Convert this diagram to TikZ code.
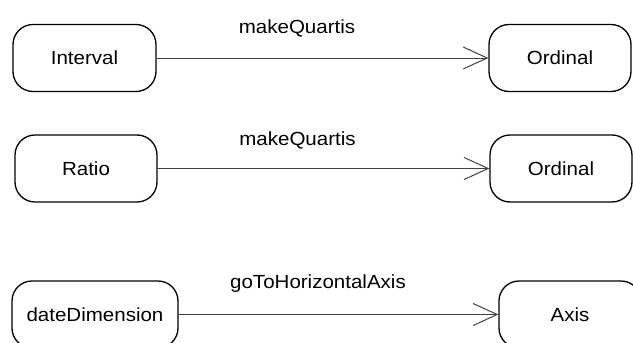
\documentclass[tikz,border=0pt]{standalone}
\usepackage{fontspec}
\setmainfont{Liberation Sans}[FakeStretch=1.08]
\usetikzlibrary{arrows.meta}
\begin{document}
\begin{tikzpicture}[x=1pt,y=-1pt,
  statebox/.style={draw=black, line width=1.3pt, rounded corners=20pt, inner sep=0pt,
    minimum height=67pt, font=\fontsize{19}{22}\selectfont},
  trans/.style={draw=black!75, line width=1pt,
    -{Straight Barb[length=24pt,width=22pt,line width=1pt]}},
  lbl/.style={anchor=base, inner sep=0pt, font=\fontsize{19}{22}\selectfont}]
\useasboundingbox (0,0) rectangle (633,343);
\node[statebox, minimum width=143pt] (interval) at (84.5,58) {Interval};
\node[statebox, minimum width=142pt] (ord1) at (560,58) {Ordinal};
\node[statebox, minimum width=142pt] (ratio) at (86,168.5) {Ratio};
\node[statebox, minimum width=142pt] (ord2) at (561,168.5) {Ordinal};
\node[statebox, minimum width=166pt] (date) at (95,314.5) {dateDimension};
\node[statebox, minimum width=142pt] (axis) at (570,314.5) {Axis};
\draw[trans] (interval) -- (ord1);
\draw[trans] (ratio) -- (ord2);
\draw[trans, line width=1.4pt] (date) -- (axis);
\node[lbl] (l1) at (297,33) {makeQuartis};
\node[lbl] (l2) at (297.5,145) {makeQuartis};
\node[lbl] (l3) at (318,288) {goToHorizontalAxis};
\end{tikzpicture}
\end{document}
